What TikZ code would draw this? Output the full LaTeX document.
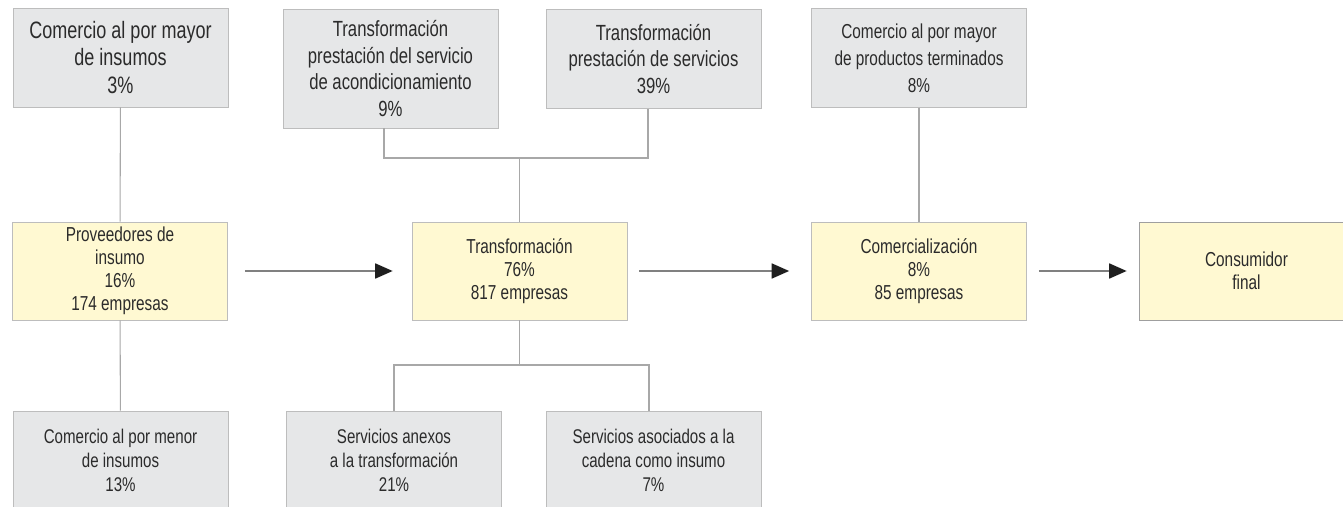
\documentclass[tikz,border=0pt]{standalone}
\usepackage{fontspec}
\setmainfont{Liberation Sans}[FakeStretch=0.76]
\usepackage{tikz}
\usetikzlibrary{arrows.meta,positioning,calc}
\definecolor{boxgray}{HTML}{E6E7E8}
\definecolor{boxyel}{HTML}{FFF9D2}
\definecolor{edgegray}{HTML}{BDBDBD}
\definecolor{linegray}{HTML}{A8A8A8}
\definecolor{arrgray}{HTML}{808080}
\definecolor{txt}{HTML}{2B2B2B}
\tikzset{
  gb/.style={rectangle,draw=edgegray,fill=boxgray,minimum width=4.3cm,minimum height=1.98cm,align=center,text=txt,inner sep=0pt},
  yb/.style={rectangle,draw=edgegray,fill=boxyel,minimum width=4.3cm,minimum height=1.96cm,align=center,text=txt,inner sep=0pt},
  fbig/.style={font=\fontsize{13.5}{15.9}\selectfont},
  fmid/.style={font=\fontsize{12.5}{15.2}\selectfont},
  flow/.style={font=\fontsize{11.3}{13.6}\selectfont},
  fsml/.style={font=\fontsize{11.5}{13.1}\selectfont},
  ln/.style={draw=linegray,line width=0.6pt},
  arr/.style={draw=arrgray,line width=1pt,-{Triangle[length=0.35cm,width=0.3cm,color=black!88]}},
}
\begin{document}
\begin{tikzpicture}[x=0.02cm,y=-0.02cm]
  \useasboundingbox[fill=white] (0,0) rectangle (1343,507);
  % upper row
  \node[gb,fbig] (mayIns) at (120.5,57.5) {Comercio al por mayor\\de insumos\\3\%};
  \node[gb,fmid,minimum height=2.38cm] (acond) at (390.5,68.5) {Transformaci\'on\\prestaci\'on del servicio\\de acondicionamiento\\9\%};
  \node[gb,fmid] (servs) at (653.5,59) {Transformaci\'on\\prestaci\'on de servicios\\39\%};
  \node[gb,font=\fontsize{11.5}{15.4}\selectfont] (mayProd) at (919,58) {Comercio al por mayor\\de productos terminados\\8\%};
  % chain
  \node[yb,fsml] (prov) at (120,271) {Proveedores de\\insumo\\16\%\\174 empresas};
  \node[yb,fsml] (trans) at (519.5,271) {Transformaci\'on\\76\%\\817 empresas};
  \node[yb,fsml] (comerc) at (919,271) {Comercializaci\'on\\8\%\\85 empresas};
  \node[yb,draw=gray!75,font=\fontsize{11.5}{12.9}\selectfont] (cons) at (1246.5,271) {Consumidor\\final};
  % lower row
  \node[gb,flow] (menIns) at (120.5,460.5) {Comercio al por menor\\de insumos\\13\%};
  \node[gb,flow,font=\fontsize{11.3}{13.7}\selectfont] (anexos) at (394,460.5) {Servicios anexos\\a la transformaci\'on\\21\%};
  \node[gb,flow,font=\fontsize{11.3}{13.7}\selectfont] (asoc) at (653.5,460.5) {Servicios asociados a la\\cadena como insumo\\7\%};
  % junctions
  \coordinate (jt) at (519.5,158);
  \coordinate (jb) at (519.5,365);
  \draw[ln] (mayIns) -- (prov);
  \draw[ln] (prov) -- (menIns);
  \draw[ln] ([xshift=-0.13cm]acond.south) |- (jt) -| ([xshift=-0.11cm]servs.south);
  \draw[ln] (jt) -- (trans);
  \draw[ln] (trans) -- (jb);
  \draw[ln] (anexos.north) |- (jb) -| ([xshift=-0.09cm]asoc.north);
  \draw[ln] (mayProd) -- (comerc);
  \draw[arr,shorten <=0.34cm,shorten >=0.38cm] (prov) -- (trans);
  \draw[arr,shorten <=0.24cm,shorten >=0.44cm] (trans) -- (comerc);
  \draw[arr,shorten <=0.24cm,shorten >=0.24cm] (comerc) -- (cons);
\end{tikzpicture}
\end{document}
